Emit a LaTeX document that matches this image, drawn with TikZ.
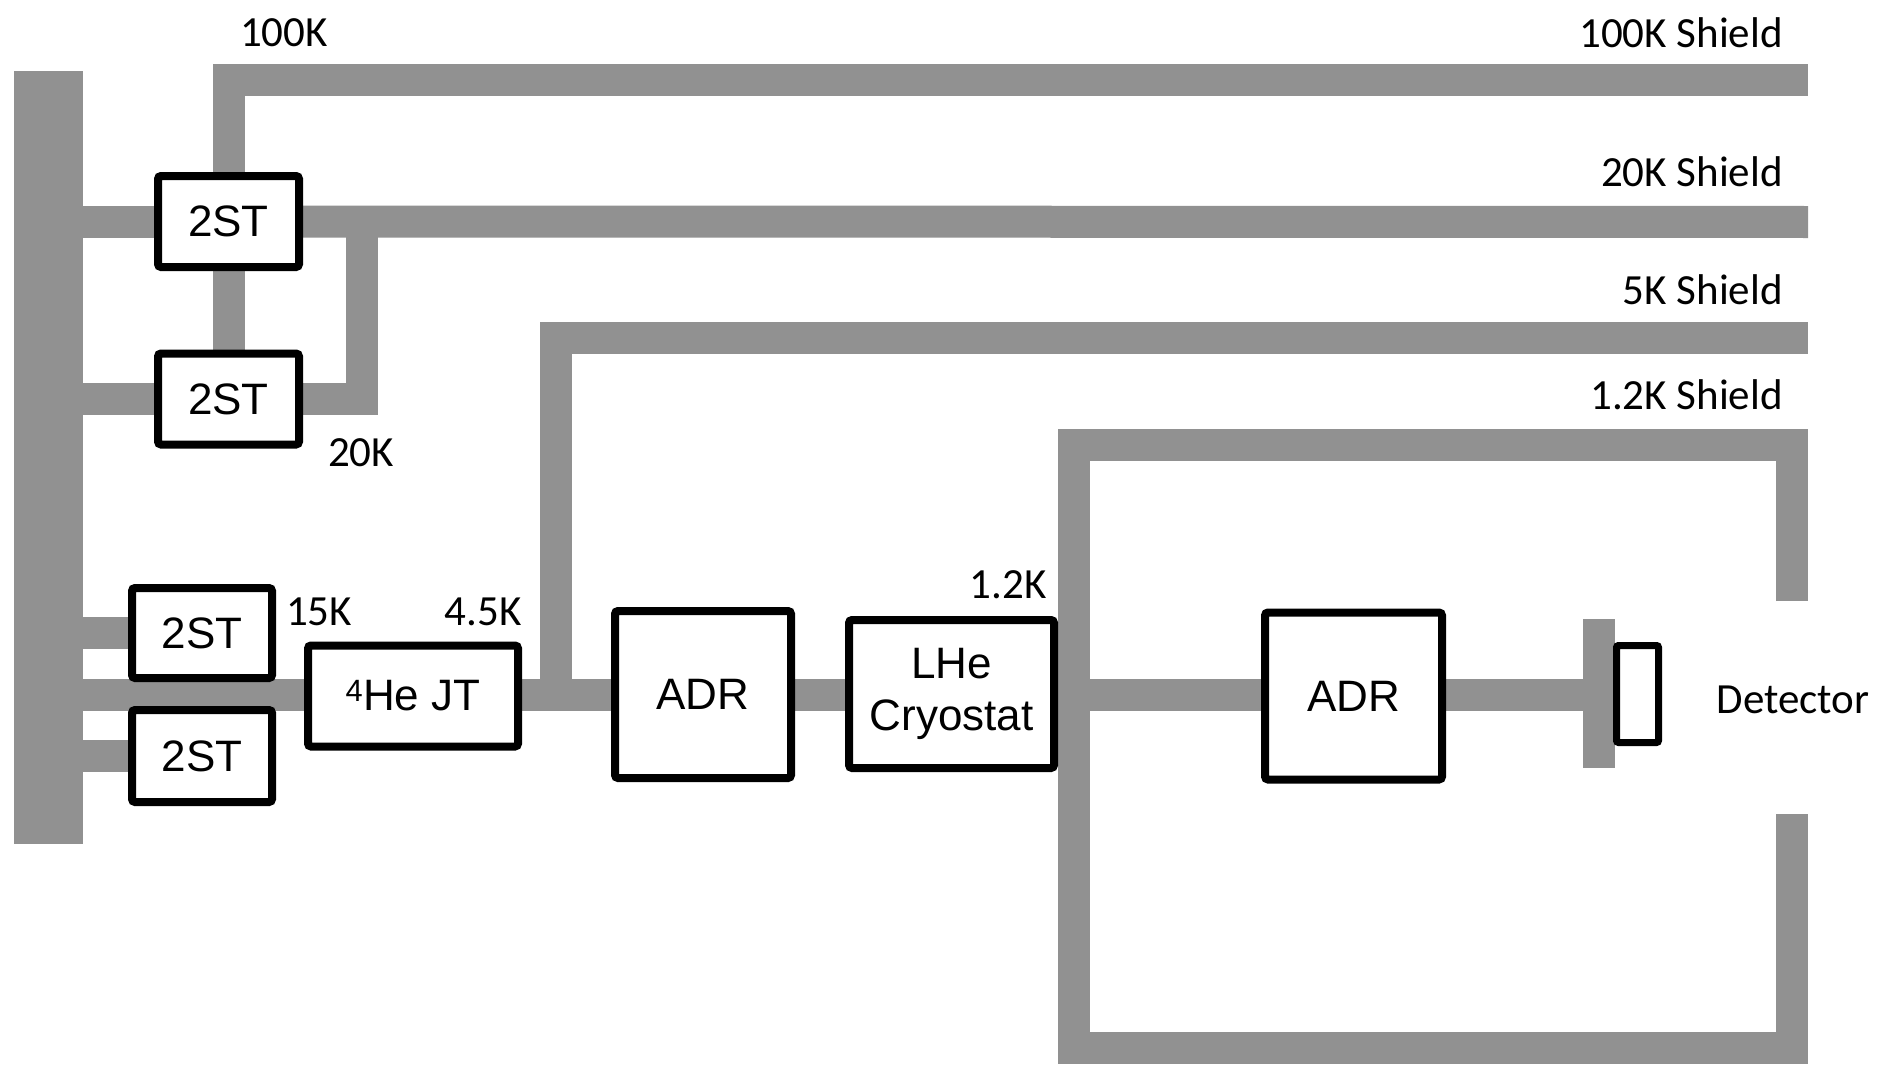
\documentclass[tikz,border=0pt]{standalone}
\usepackage{fontspec}
\setmainfont{Liberation Sans}
\newfontfamily\lblfont{Carlito}
\pgfdeclarelayer{back}
\pgfdeclarelayer{bars}
\pgfsetlayers{back,bars,main}
\definecolor{barg}{RGB}{145,145,145}
\tikzset{
  bar/.style={draw=barg, line width=32pt, line join=miter},
  boxn/.style={draw=black, fill=white, line width=8pt, rounded corners=3pt, inner sep=0pt, align=center,
    font=\fontsize{44}{52}\selectfont},
  lbl/.style={inner sep=0pt, font=\lblfont\fontsize{43}{48}\selectfont},
  platen/.style={fill=barg, inner sep=0pt, outer sep=0pt}
}
\begin{document}
\begin{tikzpicture}[x=1pt,y=-1pt]
\begin{pgfonlayer}{back}
\fill[white] (0,0) rectangle (1888,1065);
\end{pgfonlayer}
\useasboundingbox (0,0) rectangle (1888,1065);

% plates
\node[platen, minimum width=69pt, minimum height=773pt] (plate) at (48.5,457.5) {};
\node[platen, minimum width=32pt, minimum height=149pt] (dplate) at (1599,693.5) {};

% boxes
\node[boxn, minimum width=141pt, minimum height=91pt] (S1) at (228.5,221.5) {\raisebox{-2pt}{2ST}};
\node[boxn, minimum width=141pt, minimum height=91pt] (S2) at (228.5,399) {\raisebox{-2pt}{2ST}};
\node[boxn, minimum width=140pt, minimum height=90pt] (S3) at (202,633) {2ST};
\node[boxn, minimum width=140pt, minimum height=92pt] (S4) at (202,756) {2ST};
\node[boxn, minimum width=210pt, minimum height=101pt] (JT) at (413,696) {\textsuperscript{4}He JT};
\node[boxn, minimum width=176pt, minimum height=167pt] (ADR1) at (703,694.5) {ADR};
\node[boxn, minimum width=205pt, minimum height=148pt] (LHe) at (951.5,694)
  {\raisebox{-4pt}{\begin{tabular}{@{}c@{}}LHe\\Cryostat\end{tabular}}};
\node[boxn, minimum width=177pt, minimum height=167pt] (ADR2) at (1353.5,696) {ADR};
\node[boxn, line width=7pt, rounded corners=2pt, minimum width=42pt, minimum height=97pt] (det) at (1637.5,694) {};

% free ends and junctions
\coordinate (k100end) at (1808,80);
\coordinate (k20end) at (1808,222);
\coordinate (k20x) at (362,222);
\coordinate (k5x) at (555.5,694.5);
\coordinate (k5end) at (1808,337.5);
\coordinate (k12a) at (1792,601);
\coordinate (k12tr) at (1792,445);
\coordinate (k12tl) at (1074,445);
\coordinate (k12bl) at (1074,1048);
\coordinate (k12br) at (1792,1048);
\coordinate (k12b) at (1792,814);

\begin{pgfonlayer}{bars}
% plate to coolers
\draw[bar] (plate.east |- S1.west) -- (S1.west);
\draw[bar] (plate.east |- S2.west) -- (S2.west);
\draw[bar] (plate.east |- S3.west) -- (S3.west);
\draw[bar] (plate.east |- S4.west) -- (S4.west);
\draw[bar] (plate.east |- k5x) -- (JT.west |- k5x);
% 100K shield
\draw[bar] (S1.north) -- (S1.north |- k100end) -- (k100end);
% 20K shield
\draw[bar] (S1.east) -- (k20end);
\draw[bar] (S1.south) -- (S2.north);
\draw[bar] (S2.east) -- (S2.east -| k20x) -- (k20x);
% main line
\draw[bar] (JT.east |- k5x) -- (ADR1.west |- k5x);
\draw[bar] (ADR1.east |- k5x) -- (LHe.west |- k5x);
\draw[bar] (k12tl |- k5x) -- (ADR2.west |- k5x);
\draw[bar] (ADR2.east |- k5x) -- (dplate.west |- k5x);
% 5K shield
\draw[bar] (k5x) -- (k5x |- k5end) -- (k5end);
% 1.2K shield
\draw[bar] (k12a) -- (k12tr) -- (k12tl) -- (k12bl) -- (k12br) -- (k12b);
\end{pgfonlayer}

% labels
\node[lbl] (l100) at (284,33) {100K};
\node[lbl] (l20) at (361,453) {20K};
\node[lbl] (l15) at (319,612) {15K};
\node[lbl] (l45) at (483,612) {4.5K};
\node[lbl] (l12) at (1008,585) {1.2K};
\node[lbl, anchor=east] (s100) at (1783,33) {100K Shield};
\node[lbl, anchor=east] (s20) at (1783,172) {20K Shield};
\node[lbl, anchor=east] (s5) at (1783,290) {5K Shield};
\node[lbl, anchor=east] (s12) at (1783,395) {1.2K Shield};
\node[lbl] (ldet) at (1793,700) {Detector};
\end{tikzpicture}
\end{document}
